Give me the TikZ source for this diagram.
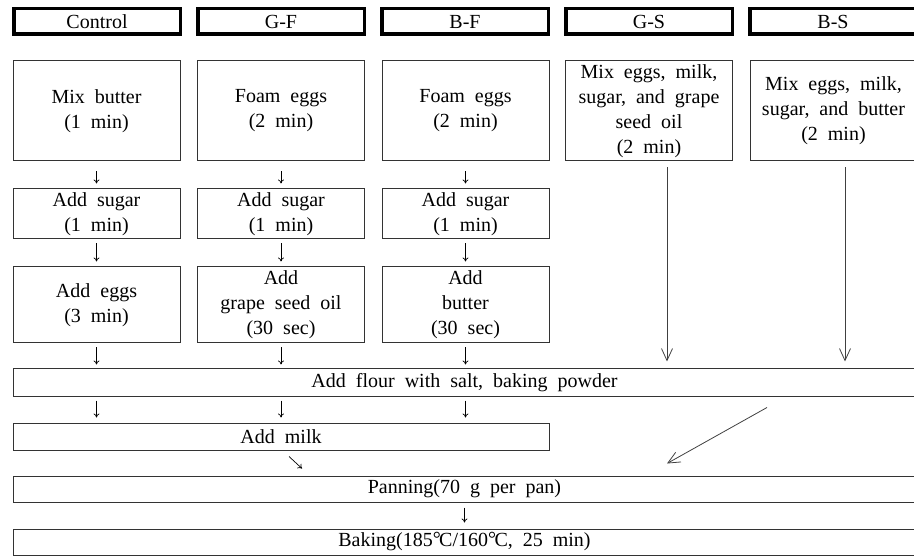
\documentclass[tikz,border=0pt]{standalone}
\usepackage{fontspec}
\setmainfont{Liberation Serif}
\usetikzlibrary{arrows.meta}
\newcommand{\celsius}{\raisebox{0.05em}{°}\kern-0.08em C}
\tikzset{
  hdr/.style={draw=black, line width=3.5pt, minimum width=166.5pt, minimum height=25.5pt, inner sep=0pt},
  stepbox/.style={draw=black!80, line width=1pt, minimum width=167pt, inner sep=0pt, align=center},
  widebox/.style={draw=black!80, line width=1pt, inner sep=0pt},
  arr/.style={-{To[length=4pt,width=6pt]}, line width=0.7pt},
  longarr/.style={-{Straight Barb[length=12pt,width=11pt]}, line width=0.8pt, draw=black!75},
}

\begin{document}
\begin{tikzpicture}[x=1pt,y=-1pt,font={\fontsize{20}{25}\selectfont\spaceskip=0.5em\relax}]
   \useasboundingbox (0,0) rectangle (914,556);
   \clip (0,0) rectangle (914,556);
   % group titles
   \node[hdr] (hc)  at (97,21.5)  {Control};
   \node[hdr] (hgf) at (281,21.5) {G-F};
   \node[hdr] (hbf) at (465,21.5) {B-F};
   \node[hdr] (hgs) at (649,21.5) {G-S};
   \node[hdr] (hbs) at (833,21.5) {B-S};
   % first step
   \node[stepbox, minimum height=100pt] (mix)   at (96.5,111)  {Mix butter\\(1 min)};
   \node[stepbox, minimum height=100pt] (foama) at (281,111)   {Foam eggs\\(2 min)};
   \node[stepbox, minimum height=100pt] (foamb) at (465.5,111) {Foam eggs\\(2 min)};
   \node[stepbox, minimum height=100pt] (gsmix) at (649,111)   {Mix eggs, milk,\\sugar, and grape\\seed oil\\(2 min)};
   \node[stepbox, minimum height=100pt] (bsmix) at (833.5,111) {Mix eggs, milk,\\sugar, and butter\\(2 min)};
   % sugar
   \node[stepbox, minimum height=50pt] (suga) at (96.5,214)  {Add sugar\\(1 min)};
   \node[stepbox, minimum height=50pt] (sugb) at (281,214)   {Add sugar\\(1 min)};
   \node[stepbox, minimum height=50pt] (sugc) at (465.5,214) {Add sugar\\(1 min)};
   % third step
   \node[stepbox, minimum height=76pt] (eggs)   at (96.5,305)  {Add eggs\\(3 min)};
   \node[stepbox, minimum height=76pt] (oil)    at (281,305)   {Add\\grape seed oil\\(30 sec)};
   \node[stepbox, minimum height=76pt] (butter) at (465.5,305) {Add\\butter\\(30 sec)};
   % common steps
   \node[widebox, minimum width=903pt, minimum height=27pt] (flour) at (464.5,382.5) {Add flour with salt, baking powder};
   \node[widebox, minimum width=536pt, minimum height=27pt] (milk)  at (281,436.5)   {Add milk};
   \node[widebox, minimum width=903pt, minimum height=26pt] (pan)   at (464.5,489)   {Panning(70 g per pan)};
   \node[widebox, minimum width=903pt, minimum height=26pt] (bake)  at (464.5,542)   {Baking(185\celsius/160\celsius, 25 min)};
   % arrows
   \draw[arr] ([yshift=-10pt]mix.south) -- ([yshift=5pt]suga.north);
   \draw[arr] ([yshift=-10pt]foama.south) -- ([yshift=5pt]sugb.north);
   \draw[arr] ([yshift=-10pt]foamb.south) -- ([yshift=5pt]sugc.north);
   \draw[arr] ([yshift=-4pt]suga.south) -- ([yshift=5pt]eggs.north);
   \draw[arr] ([yshift=-4pt]sugb.south) -- ([yshift=5pt]oil.north);
   \draw[arr] ([yshift=-4pt]sugc.south) -- ([yshift=5pt]butter.north);
   \draw[arr] ([yshift=-4pt]eggs.south) -- ([yshift=4pt]eggs.south |- flour.north);
   \draw[arr] ([yshift=-4pt]oil.south) -- ([yshift=4pt]oil.south |- flour.north);
   \draw[arr] ([yshift=-4pt]butter.south) -- ([yshift=4pt]butter.south |- flour.north);
   \draw[arr] ([yshift=-4pt]eggs.south |- flour.south) -- ([yshift=5pt]eggs.south |- milk.north);
   \draw[arr] ([yshift=-4pt]oil.south |- flour.south) -- ([yshift=5pt]oil.south |- milk.north);
   \draw[arr] ([yshift=-4pt]butter.south |- flour.south) -- ([yshift=5pt]butter.south |- milk.north);
   \draw[arr] ([shift={(8,6)}]milk.south) -- ([shift={(21,18)}]milk.south);
   \draw[arr] ([yshift=-5pt]pan.south) -- ([yshift=6pt]bake.north);
   \draw[longarr] ([shift={(18,6)}]gsmix.south) -- ([xshift=18pt,yshift=7pt]gsmix.south |- flour.north);
   \draw[longarr] ([shift={(11.5,6)}]bsmix.south) -- ([xshift=11.5pt,yshift=7pt]bsmix.south |- flour.north);
   \draw[longarr] ([shift={(302.5,11)}]flour.south) -- ([shift={(202.5,-12)}]pan.north);
\end{tikzpicture}
\end{document}
